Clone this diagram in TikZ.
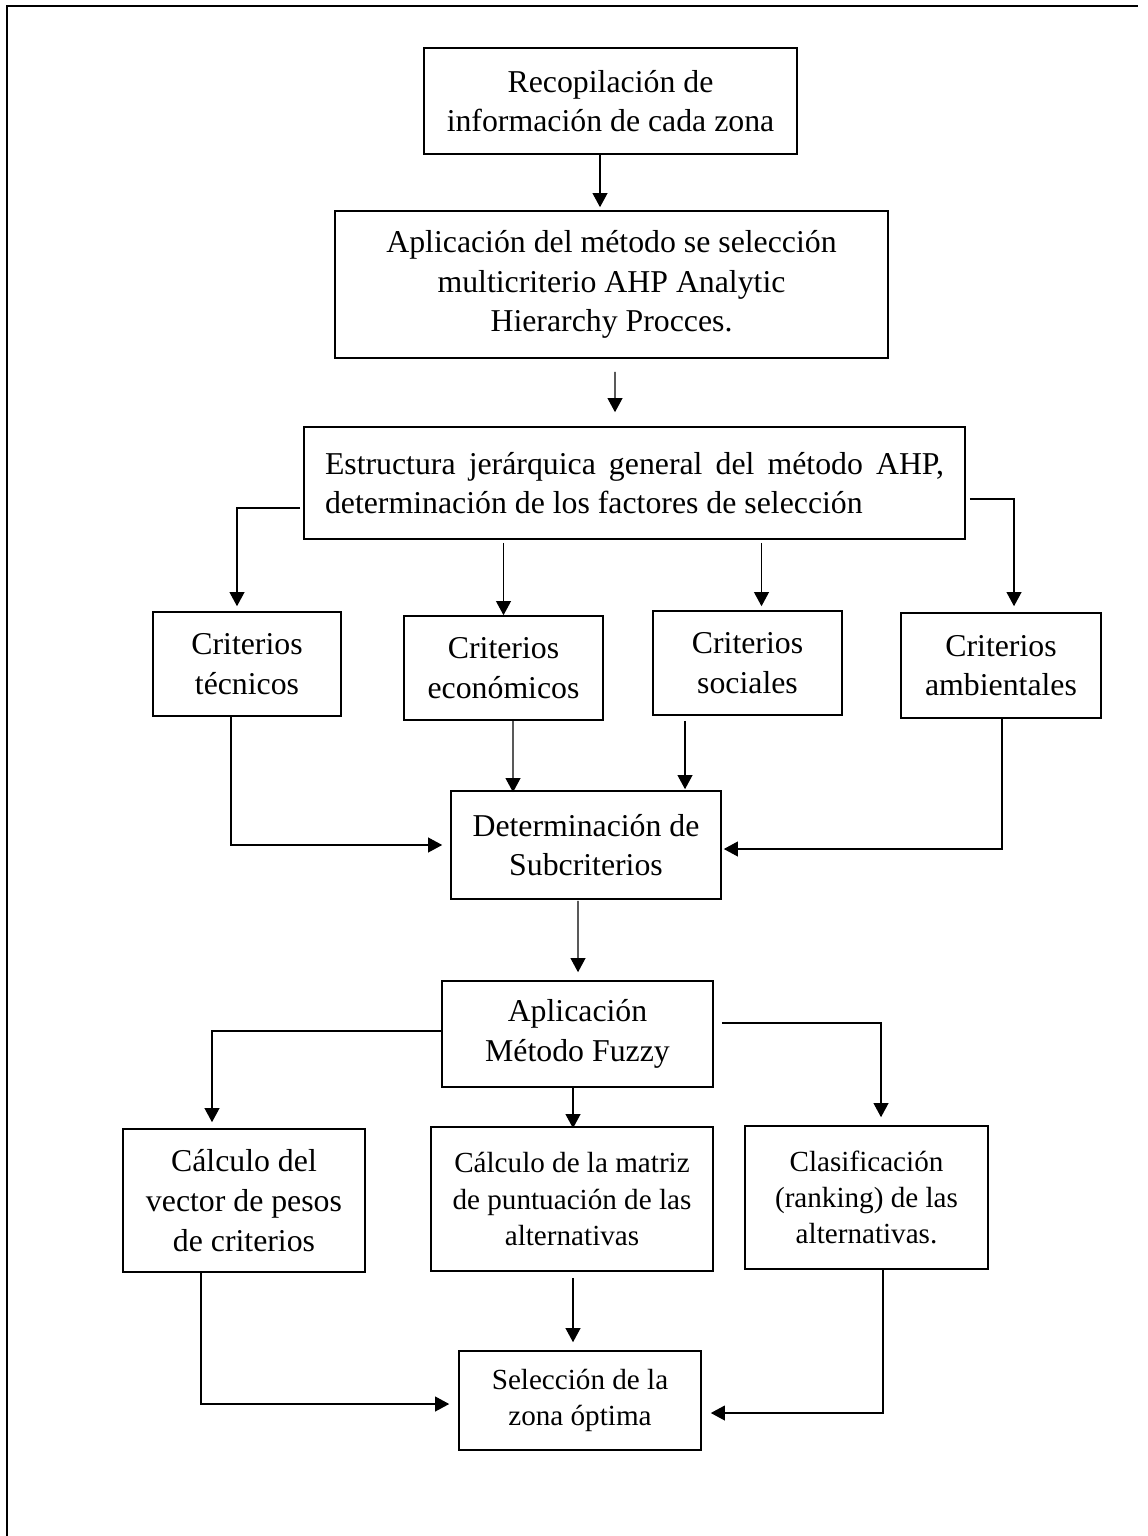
\documentclass[tikz,border=0pt]{standalone}
\usepackage{fontspec}
\setmainfont{Liberation Serif}
\usepackage{tikz}
\usetikzlibrary{arrows.meta,calc}
\newcommand{\pxu}{0.3774pt}
\tikzset{
    flow-box/.style = {draw, line width=0.6pt, rectangle, inner sep=0pt, align=center, font=\fontsize{12}{15}\selectfont},
    flow-box-small/.style = {flow-box, font=\fontsize{11}{13.6}\selectfont},
    flow-arrow/.style = {draw, line width=0.45pt, -{Triangle[length=5.3pt,width=5.6pt]}},
    page-frame/.style = {draw, line width=0.9pt},
}

\begin{document}
\begin{tikzpicture}[x=\pxu, y=-\pxu]
\useasboundingbox (0,0) rectangle (1147,1536);
\draw[page-frame] (7,1536) -- (7,6) -- (1138,6);

\node[flow-box, minimum width=373*\pxu, minimum height=106*\pxu] (reco) at (610.5,101) {Recopilación de\\información de cada zona};
\node[flow-box, minimum width=553*\pxu, minimum height=147*\pxu] (ahp) at (611.5,284.5) {Aplicación del método se selección\\multicriterio AHP Analytic\\Hierarchy Procces.};
\node[flow-box, minimum width=661*\pxu, minimum height=112*\pxu, text width=619*\pxu, align=justify] (estr) at (634.5,483) {Estructura jerárquica general del método AHP,\linebreak determinación de los factores de selección};

\node[flow-box, minimum width=188*\pxu, minimum height=104*\pxu] (tec) at (247,664) {Criterios\\técnicos};
\node[flow-box, minimum width=199*\pxu, minimum height=104*\pxu] (eco) at (503.5,668) {Criterios\\económicos};
\node[flow-box, minimum width=189*\pxu, minimum height=104*\pxu] (soc) at (747.5,663) {Criterios\\sociales};
\node[flow-box, minimum width=200*\pxu, minimum height=105*\pxu] (amb) at (1001,665.5) {Criterios\\ambientales};

\node[flow-box, minimum width=270*\pxu, minimum height=108*\pxu] (det) at (586,845) {Determinación de\\Subcriterios};
\node[flow-box, minimum width=271*\pxu, minimum height=106*\pxu] (fuz) at (577.5,1034) {Aplicación\\Método Fuzzy};

\node[flow-box, minimum width=242*\pxu, minimum height=143*\pxu] (vec) at (244,1200.5) {Cálculo del\\vector de pesos\\de criterios};
\node[flow-box-small, minimum width=282*\pxu, minimum height=144*\pxu] (mat) at (572,1199) {Cálculo de la matriz\\de puntuación de las\\alternativas};
\node[flow-box-small, minimum width=243*\pxu, minimum height=143*\pxu] (cla) at (866.5,1197.5) {Clasificación\\(ranking) de las\\alternativas.};
\node[flow-box-small, minimum width=242*\pxu, minimum height=99*\pxu] (sel) at (580,1400.5) {Selección de la\\zona óptima};

\draw[flow-arrow] ($(reco.south)+(-10.5,0)$) -- ($(ahp.north)+(-11.5,-3)$);
\draw[flow-arrow] ($(ahp.south)+(3.5,13)$) -- ($(estr.north)+(-19.5,-14)$);

\draw[flow-arrow] ($(estr.west)+(-3,25)$) -| ($(tec.north)+(-10,-5)$);
\draw[flow-arrow] ($(estr.south -| eco.north)+(0,3)$) -- (eco.north);
\draw[flow-arrow] ($(estr.south -| soc.north)+(14,3)$) -- ($(soc.north)+(14,-4)$);
\draw[flow-arrow] ($(estr.east)+(4,16)$) -| ($(amb.north)+(13,-6)$);

\draw[flow-arrow] ($(tec.south)+(-16,0)$) |- ($(det.west)+(-8,0)$);
\draw[flow-arrow] ($(eco.south)+(9.5,0)$) -- ($(det.north)+(-73,2)$);
\draw[flow-arrow] ($(soc.south)+(-62.5,5)$) -- ($(det.north)+(99,-1)$);
\draw[flow-arrow] ($(amb.south)+(1,0)$) |- ($(det.east)+(2,4)$);

\draw[flow-arrow] ($(det.south)+(-8,1)$) -- ($(fuz.north)+(0.5,-8)$);

\draw[flow-arrow] ($(fuz.west)+(0,-3)$) -| ($(vec.north)+(-32,-6)$);
\draw[flow-arrow] ($(fuz.south)+(-4.5,0)$) -- ($(mat.north)+(1,2)$);
\draw[flow-arrow] ($(fuz.east)+(8,-11)$) -| ($(cla.north)+(14.5,-8)$);

\draw[flow-arrow] ($(vec.south)+(-43,0)$) |- ($(sel.west)+(-9,3.5)$);
\draw[flow-arrow] ($(mat.south)+(1,6)$) -- ($(sel.north)+(-7,-8)$);
\draw[flow-arrow] ($(cla.south)+(16.5,0)$) |- ($(sel.east)+(9,12.5)$);
\end{tikzpicture}
\end{document}
